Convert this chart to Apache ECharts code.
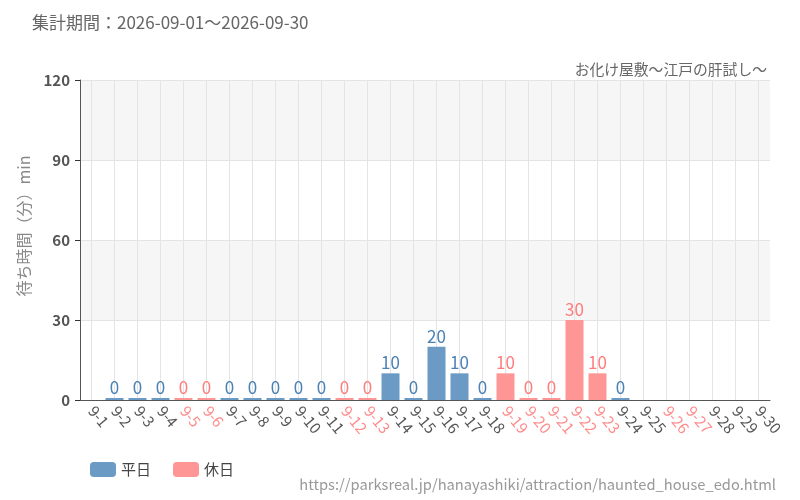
<!DOCTYPE html>
<html lang="ja">
<head>
    <meta charset="UTF-8">
    <title>お化け屋敷～江戸の肝試し～</title>
    <script src="https://cdn.jsdelivr.net/npm/echarts@6.0.0/dist/echarts.min.js"></script>
    <style>
        * { margin: 0; padding: 0; }
        #chart { width: 800px; height: 500px; }
    </style>
</head>
<body>
    <div id="chart"></div>
    <script>
        const days = ['9-1','9-2','9-3','9-4','9-5','9-6','9-7','9-8','9-9','9-10',
            '9-11','9-12','9-13','9-14','9-15','9-16','9-17','9-18','9-19','9-20',
            '9-21','9-22','9-23','9-24','9-25','9-26','9-27','9-28','9-29','9-30'];
        const holidays = ['9-5','9-6','9-12','9-13','9-19','9-20','9-21','9-22','9-23','9-26','9-27'];
        // null = no data that day
        const waits = [null,0,0,0,0,0,0,0,0,0,
            0,0,0,10,0,20,10,0,10,0,
            0,30,10,0,null,null,null,null,null,null];
        const yTicks = [0, 30, 60, 90, 120];

        const weekdayData = days.map((d, i) => holidays.includes(d) || waits[i] === null ? '-' : waits[i]);
        const holidayData = days.map((d, i) => !holidays.includes(d) || waits[i] === null ? '-' : waits[i]);

        const font = '"Noto Sans CJK JP", "Noto Sans", sans-serif';

        const chart = echarts.init(document.getElementById('chart'));
        chart.setOption({
            animation: false,
            textStyle: { fontFamily: font },
            title: [
                { text: '集計期間：2026-09-01～2026-09-30', left: 27, top: 9,
                  textStyle: { fontSize: 17, fontWeight: 'normal', color: '#666' } },
                { text: 'お化け屋敷～江戸の肝試し～', right: 28, top: 57,
                  textStyle: { fontSize: 14.8, fontWeight: 'normal', color: '#666' } },
                { text: 'https://parksreal.jp/hanayashiki/attraction/haunted_house_edo.html', right: 19, top: 472,
                  textStyle: { fontSize: 14.7, fontWeight: 'normal', color: '#999' } }
            ],
            legend: {
                left: 85, top: 457, itemWidth: 26, itemHeight: 15, itemGap: 22,
                textStyle: { fontSize: 15, color: '#444' },
                data: ['平日', '休日']
            },
            grid: { left: 80, right: 30, top: 80, bottom: 100, containLabel: false },
            xAxis: {
                type: 'category',
                data: days,
                axisLine: { lineStyle: { color: '#555' } },
                axisTick: { alignWithLabel: true, length: 5, lineStyle: { color: '#333' } },
                splitLine: { show: true, alignWithLabel: true, lineStyle: { color: '#e4e4e4' } },
                axisLabel: {
                    interval: 0, rotate: -50, fontSize: 15, margin: 8,
                    color: v => holidays.includes(v) ? '#ff8a8a' : '#555'
                }
            },
            yAxis: {
                type: 'value',
                min: yTicks[0], max: yTicks[yTicks.length - 1], interval: 30,
                name: '待ち時間（分）min',
                nameLocation: 'middle', nameGap: 48,
                nameTextStyle: { fontSize: 16, color: '#888', padding: [0, 0, 0, 28] },
                axisLine: { show: true, lineStyle: { color: '#555' } },
                axisTick: { show: true, length: 5, lineStyle: { color: '#333' } },
                axisLabel: { fontSize: 15, fontWeight: 'bold', color: '#555', margin: 10 },
                splitLine: { lineStyle: { color: '#e4e4e4' } },
                splitArea: { show: true, areaStyle: { color: ['#ffffff', '#f6f6f6'] } }
            },
            series: [
                {
                    name: '平日', type: 'bar', data: weekdayData,
                    barWidth: 18, barGap: '-100%', barMinHeight: 2,
                    itemStyle: { color: '#6b9bc4' },
                    label: { show: true, position: 'top', distance: 2, fontSize: 17,
                             color: '#4a82b6' }
                },
                {
                    name: '休日', type: 'bar', data: holidayData,
                    barWidth: 18, barGap: '-100%', barMinHeight: 2,
                    itemStyle: { color: '#ff9696' },
                    label: { show: true, position: 'top', distance: 2, fontSize: 17,
                             color: '#ff7d7d' }
                }
            ]
        });
    </script>
</body>
</html>
